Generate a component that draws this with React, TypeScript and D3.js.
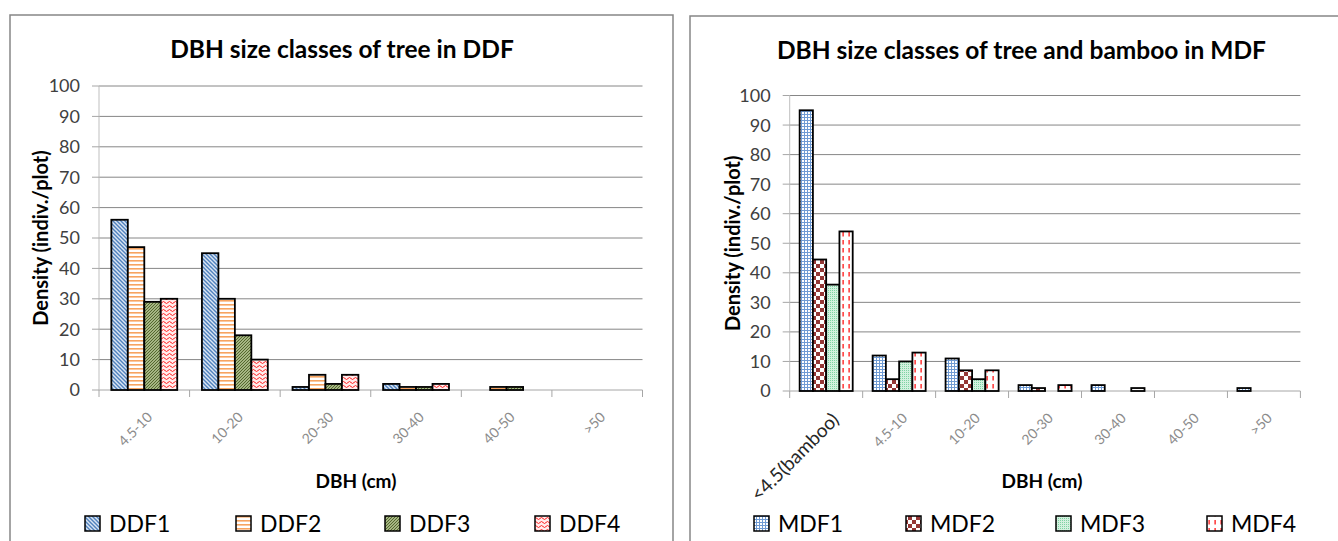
import React from "react";
import * as d3 from "d3";

// ---------- data ----------
const ddfCategories = ["4.5-10", "10-20", "20-30", "30-40", "40-50", ">50"];
const ddfSeriesNames = ["DDF1", "DDF2", "DDF3", "DDF4"];
const ddf1 = [56, 45, 1, 2, 0, 0];
const ddf2 = [47, 30, 5, 1, 1, 0];
const ddf3 = [29, 18, 2, 1, 1, 0];
const ddf4 = [30, 10, 5, 2, 0, 0];

const mdfCategories = ["<4.5(bamboo)", "4.5-10", "10-20", "20-30", "30-40", "40-50", ">50"];
const mdfSeriesNames = ["MDF1", "MDF2", "MDF3", "MDF4"];
const mdf1 = [95, 12, 11, 2, 2, 0, 1];
const mdf2 = [44.5, 4, 7, 1, 0, 0, 0];
const mdf3 = [36, 10, 4, 0, 0, 0, 0];
const mdf4 = [54, 13, 7, 2, 1, 0, 0];

const yTicks = [0, 10, 20, 30, 40, 50, 60, 70, 80, 90, 100];

const FONT = "Lato, 'Liberation Sans', sans-serif";

type PanelProps = {
  frame: { x: number; y: number; w: number; h: number };
  plot: { left: number; right: number; top: number; bottom: number };
  title: string;
  titleX: number;
  titleY: number;
  yTitleX: number;
  xTitleX: number;
  categories: string[];
  seriesNames: string[];
  series: number[][];
  patterns: string[];
  legendX: number[];
  bigFirstLabel?: boolean;
};

function Panel(p: PanelProps) {
  const { plot } = p;
  const y = d3.scaleLinear().domain([0, 100]).range([plot.bottom, plot.top]);
  const x0 = d3.scaleBand<string>().domain(p.categories).range([plot.left, plot.right]).padding(0);
  const bw = x0.bandwidth();
  const groupW = (bw * 4) / 5.5;
  const x1 = d3
    .scaleBand<string>()
    .domain(p.seriesNames)
    .range([(bw - groupW) / 2, (bw + groupW) / 2])
    .padding(0);
  const tickEdges = [...p.categories.map((c) => x0(c) as number), plot.right];
  const yMid = (plot.top + plot.bottom) / 2;
  return (
    <g>
      <rect
        x={p.frame.x}
        y={p.frame.y}
        width={p.frame.w}
        height={p.frame.h}
        fill="white"
        stroke="#868686"
        strokeWidth={1.5}
      />
      <text
        x={p.titleX}
        y={p.titleY}
        textAnchor="middle"
        fontFamily={FONT}
        fontWeight="bold"
        fontSize={24.5}
        fill="#000"
      >
        {p.title}
      </text>
      {/* gridlines */}
      {yTicks.map((t) => (
        <line
          key={"g" + t}
          x1={plot.left}
          x2={plot.right}
          y1={y(t)}
          y2={y(t)}
          stroke={t === 0 ? "#a6a6a6" : "#868686"}
          strokeWidth={1}
        />
      ))}
      {/* y axis */}
      <line x1={plot.left} x2={plot.left} y1={plot.top} y2={plot.bottom} stroke="#bfbfbf" strokeWidth={1} />
      {yTicks.map((t) => (
        <g key={"yt" + t}>
          <line x1={plot.left - 7} x2={plot.left} y1={y(t)} y2={y(t)} stroke="#a6a6a6" />
          <text
            x={plot.left - 19}
            y={y(t)}
            dy="0.36em"
            textAnchor="end"
            fontFamily={FONT}
            fontSize={18}
            fill="#404040"
          >
            {t}
          </text>
        </g>
      ))}
      {/* x ticks */}
      {tickEdges.map((tx, i) => (
        <line key={"xt" + i} x1={tx} x2={tx} y1={plot.bottom} y2={plot.bottom + 7} stroke="#a6a6a6" />
      ))}
      {/* bars */}
      {p.categories.map((c, ci) => (
        <g key={"c" + ci}>
          {p.seriesNames.map((s, si) => {
            const v = p.series[si][ci];
            if (!v) return null;
            const bx = (x0(c) as number) + (x1(s) as number);
            return (
              <rect
                key={s}
                x={bx}
                y={y(v)}
                width={x1.bandwidth()}
                height={y(0) - y(v)}
                fill={`url(#${p.patterns[si]})`}
                stroke="#000"
                strokeWidth={1.8}
              />
            );
          })}
        </g>
      ))}
      {/* x tick labels */}
      {p.categories.map((c, ci) => {
        const cx = (x0(c) as number) + bw / 2;
        const big = p.bigFirstLabel && ci === 0;
        return (
          <text
            key={"xl" + ci}
            transform={`translate(${cx + (big ? 14 : 9)},${plot.bottom + (big ? 30 : 28)}) rotate(-45)`}
            textAnchor="end"
            fontFamily={FONT}
            fontSize={big ? 19 : 14}
            fill={big ? "#262626" : "#8c8c8c"}
          >
            {c}
          </text>
        );
      })}
      {/* axis titles */}
      <text
        transform={`translate(${p.yTitleX},${yMid}) rotate(-90)`}
        textAnchor="middle"
        dy="0.35em"
        fontFamily={FONT}
        fontWeight="bold"
        fontSize={20}
        fill="#000"
      >
        Density (indiv./plot)
      </text>
      <text
        x={p.xTitleX}
        y={488}
        textAnchor="middle"
        fontFamily={FONT}
        fontWeight="bold"
        fontSize={19}
        fill="#000"
      >
        DBH (cm)
      </text>
      {/* legend */}
      {p.seriesNames.map((s, si) => (
        <g key={"lg" + s}>
          <rect
            x={p.legendX[si]}
            y={516}
            width={15}
            height={15}
            fill={`url(#${p.patterns[si]})`}
            stroke="#000"
            strokeWidth={1.5}
          />
          <text x={p.legendX[si] + 24} y={532} fontFamily={FONT} fontSize={23} fill="#000">
            {s}
          </text>
        </g>
      ))}
    </g>
  );
}

function Patterns() {
  return (
    <defs>
      {/* DDF1: wide downward diagonal blue */}
      <pattern id="pDDF1" patternUnits="userSpaceOnUse" width={4} height={4}>
        <rect width={4} height={4} fill="#dbe5f3" />
        <path d="M-1,-1 L5,5 M-1,3 L1,5 M3,-1 L5,1" stroke="#4f81bd" strokeWidth={1.4} />
      </pattern>
      {/* DDF2: horizontal orange */}
      <pattern id="pDDF2" patternUnits="userSpaceOnUse" width={4} height={4}>
        <rect width={4} height={4} fill="#fff" />
        <rect y={0} width={4} height={1.6} fill="#f7a460" />
      </pattern>
      {/* DDF3: upward diagonal olive */}
      <pattern id="pDDF3" patternUnits="userSpaceOnUse" width={3} height={3}>
        <rect width={3} height={3} fill="#c9d8a8" />
        <path d="M-1,4 L4,-1 M-1,1 L1,-1 M2,4 L4,2" stroke="#4f6228" strokeWidth={1.1} />
      </pattern>
      {/* DDF4: red wave */}
      <pattern id="pDDF4" patternUnits="userSpaceOnUse" width={6} height={4}>
        <rect width={6} height={4} fill="#ffecec" />
        <path d="M0,2.5 Q1.5,0.5 3,2.5 T6,2.5" fill="none" stroke="#ff2020" strokeWidth={1} />
      </pattern>
      {/* MDF1: small blue grid */}
      <pattern id="pMDF1" patternUnits="userSpaceOnUse" width={3} height={3}>
        <rect width={3} height={3} fill="#fff" />
        <rect width={3} height={1} fill="#6f9bd4" />
        <rect width={1} height={3} fill="#6f9bd4" />
      </pattern>
      {/* MDF2: dark red checkerboard */}
      <pattern id="pMDF2" patternUnits="userSpaceOnUse" width={8} height={8}>
        <rect width={8} height={8} fill="#fff" />
        <rect width={4} height={4} fill="#953735" />
        <rect x={4} y={4} width={4} height={4} fill="#953735" />
      </pattern>
      {/* MDF3: light green dotted */}
      <pattern id="pMDF3" patternUnits="userSpaceOnUse" width={2} height={2}>
        <rect width={2} height={2} fill="#d3f1df" />
        <rect width={1} height={1} fill="#7fd3a3" />
      </pattern>
      {/* MDF4: red dashed vertical */}
      <pattern id="pMDF4" patternUnits="userSpaceOnUse" width={6} height={8}>
        <rect width={6} height={8} fill="#fff" />
        <rect x={2.5} y={0} width={1.2} height={4.5} fill="#ff0000" />
      </pattern>
    </defs>
  );
}

export default function App() {
  return (
    <svg
      width={1338}
      height={541}
      style={{ position: "absolute", left: 0, top: 0, background: "#fff" }}
    >
      <Patterns />
      <rect width={1338} height={541} fill="#fff" />
      <Panel
        frame={{ x: 10, y: 15, w: 663, h: 600 }}
        plot={{ left: 99, right: 642.5, top: 86, bottom: 390 }}
        title="DBH size classes of tree in DDF"
        titleX={342}
        titleY={58}
        yTitleX={41}
        xTitleX={356}
        categories={ddfCategories}
        seriesNames={ddfSeriesNames}
        series={[ddf1, ddf2, ddf3, ddf4]}
        patterns={["pDDF1", "pDDF2", "pDDF3", "pDDF4"]}
        legendX={[85, 236, 385, 535]}
      />
      <Panel
        frame={{ x: 690, y: 16, w: 700, h: 600 }}
        plot={{ left: 789.7, right: 1300.4, top: 95.5, bottom: 391 }}
        title="DBH size classes of tree and bamboo in MDF"
        titleX={1021.5}
        titleY={59}
        yTitleX={733}
        xTitleX={1042}
        categories={mdfCategories}
        seriesNames={mdfSeriesNames}
        series={[mdf1, mdf2, mdf3, mdf4]}
        patterns={["pMDF1", "pMDF2", "pMDF3", "pMDF4"]}
        legendX={[754, 906, 1056, 1207]}
        bigFirstLabel
      />
    </svg>
  );
}
